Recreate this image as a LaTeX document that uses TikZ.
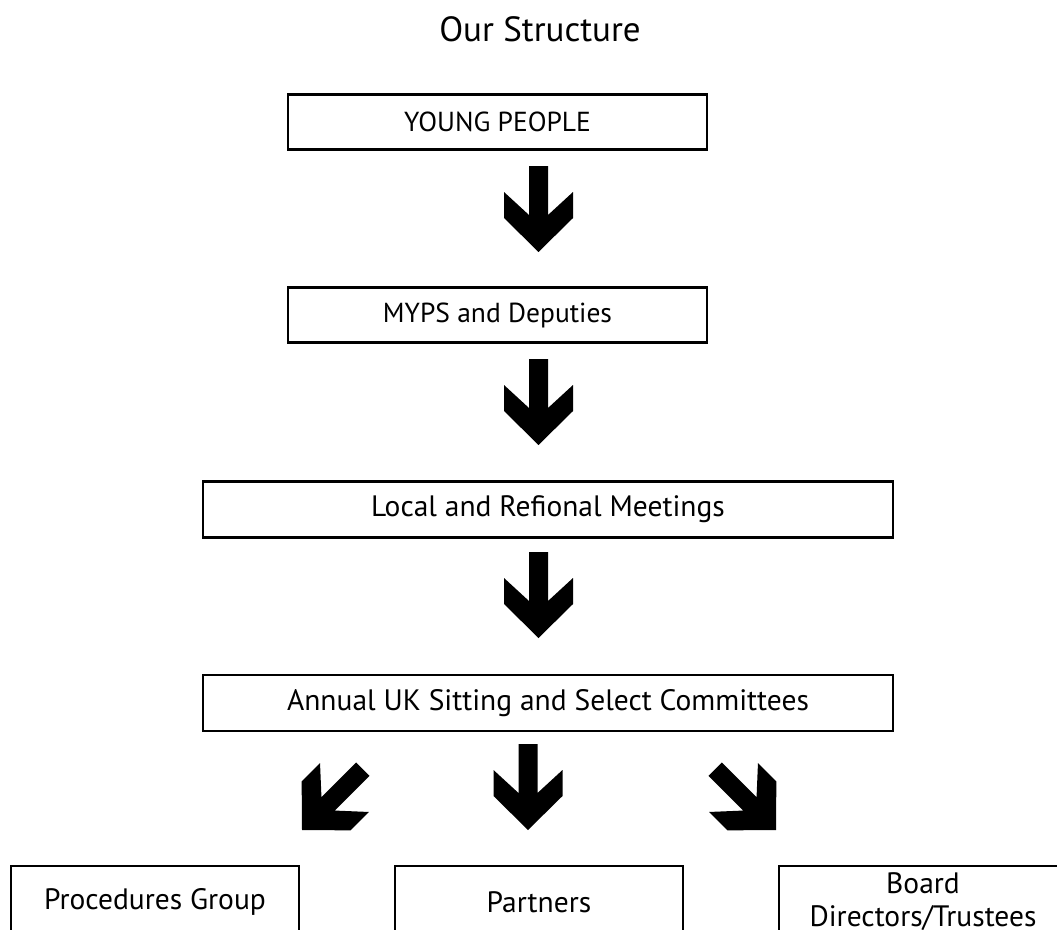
\documentclass[tikz,border=0pt]{standalone}
\usepackage{fontspec}
\setmainfont{PT Sans}
\begin{document}
\begin{tikzpicture}[x=1pt,y=-1pt,
  box/.style={draw=black,line width=2.6pt,inner sep=0pt,align=center,
    font=\fontsize{29.5}{33}\selectfont},
  topbox/.style={box,minimum width=419pt,minimum height=55pt,
    font=\fontsize{27.5}{31}\selectfont},
  widebox/.style={box,minimum width=690pt,minimum height=56pt},
  lowbox/.style={box,minimum width=288pt,minimum height=72pt},
  blockarrow/.pic={\fill[black] (0,0) -- (34.5,-34) -- (34.5,-60) -- (9.5,-37)
     -- (9.5,-86) -- (-9.5,-86) -- (-9.5,-37) -- (-34.5,-60) -- (-34.5,-34) -- cycle;}]
\useasboundingbox (0,0) rectangle (1057,929);
\clip (0,0) rectangle (1057,929);
\node[anchor=base,font=\fontsize{35}{40}\selectfont] (title) at (540,41) {Our Structure};
\node[topbox] (young) at (497.5,122) {YOUNG PEOPLE};
\node[topbox] (myps) at (497.5,315) {MYPS and Deputies};
\node[widebox] (local) at (548,509.5) {Local and Refional Meetings};
\node[widebox] (annual) at (548,703) {Annual UK Sitting and Select Committees};
\node[lowbox] (proc) at (155,902) {Procedures Group};
\node[lowbox] (partners) at (539,902) {Partners};
\node[lowbox] (board) at (923,902) {Board\\Directors/Trustees};
\coordinate (t1) at (538.5,252);
\coordinate (t2) at (538.5,445);
\coordinate (t3) at (538.5,638);
\coordinate (tl) at (302,830);
\coordinate (tc) at (528,830);
\coordinate (tr) at (776,830);
\pic at (t1) {blockarrow};
\pic at (t2) {blockarrow};
\pic at (t3) {blockarrow};
\pic[rotate=-45] at (tl) {blockarrow};
\pic at (tc) {blockarrow};
\pic[rotate=45] at (tr) {blockarrow};
\end{tikzpicture}
\end{document}
